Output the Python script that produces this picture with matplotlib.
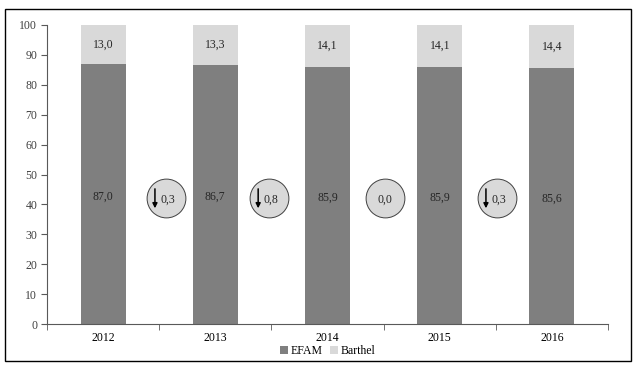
import matplotlib.pyplot as plt
from matplotlib.patches import Rectangle

years = ['2012', '2013', '2014', '2015', '2016']
efam = [87.0, 86.7, 85.9, 85.9, 85.6]
barthel = [13.0, 13.3, 14.1, 14.1, 14.4]
# change between consecutive years, drawn in circles
diff_x = [0.56, 1.48, 2.51, 3.51]
diff_y = [42.0, 42.0, 42.0, 42.0]
diff_txt = ['0,3', '0,8', '0,0', '0,3']
diff_down = [True, True, False, True]

plt.rcParams['font.family'] = ['Liberation Serif', 'DejaVu Serif']
plt.rcParams['font.size'] = 8.5

fig = plt.figure(figsize=(6.43, 3.72), dpi=100)
ax = fig.add_axes([0.0731, 0.129, 0.8725, 0.8038])

x = range(len(years))
c_efam = '#7f7f7f'
c_barthel = '#d9d9d9'
ax.bar(x, efam, width=0.4, color=c_efam, label='EFAM')
ax.bar(x, barthel, width=0.4, bottom=efam, color=c_barthel, label='Barthel')

fmt = lambda v: f'{v:.1f}'.replace('.', ',')
for i in x:
    ax.text(i, efam[i] / 2 - 0.8, fmt(efam[i]), ha='center', va='center', color='#262626')
    ax.text(i, efam[i] + barthel[i] / 2, fmt(barthel[i]), ha='center', va='center', color='#262626')

ax.scatter(diff_x, diff_y, s=780, color='#d9d9d9', edgecolors='#404040', linewidths=0.7, zorder=3)
for cx, cy, t, down in zip(diff_x, diff_y, diff_txt, diff_down):
    if down:
        ax.annotate('', xy=(cx - 0.098, cy - 3.3), xytext=(cx - 0.098, cy + 3.2),
                    arrowprops=dict(arrowstyle='-|>', color='black', lw=1.1, mutation_scale=7,
                                    shrinkA=0, shrinkB=0),
                    zorder=4)
        ax.text(cx - 0.05, cy - 0.6, t, ha='left', va='center', zorder=4, color='#262626')
    else:
        ax.text(cx, cy - 0.6, t, ha='center', va='center', zorder=4, color='#262626')

ax.set_xlim(-0.5, len(years) - 0.5)
ax.set_ylim(0, 100)
ax.set_yticks(range(0, 101, 10))
ax.set_xticks(x)
ax.set_xticklabels(years)
ax.set_xticks([i - 0.5 for i in range(len(years) + 1)], minor=True)
ax.tick_params(axis='x', which='major', length=0, pad=6)
ax.tick_params(axis='x', which='minor', length=4, color='#595959')
ax.tick_params(axis='y', length=4, color='#595959', labelcolor='#404040', pad=3)
for s in ['top', 'right']:
    ax.spines[s].set_visible(False)
for s in ['left', 'bottom']:
    ax.spines[s].set_color('#595959')
    ax.spines[s].set_linewidth(0.8)

ax.legend(loc='upper center', bbox_to_anchor=(0.5, -0.055), ncol=2, frameon=False,
          handlelength=0.7, handleheight=0.7, handletextpad=0.2, columnspacing=0.6,
          borderaxespad=0)

fig.patches.append(Rectangle((0.0078, 0.0296), 0.9735, 0.9462, transform=fig.transFigure,
                             fill=False, edgecolor='black', linewidth=1.0))

fig.savefig('out.png', dpi=100)
